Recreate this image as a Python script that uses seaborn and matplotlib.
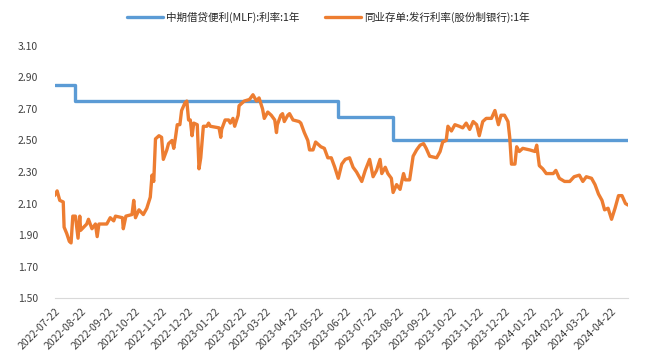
import pandas as pd
import seaborn as sns
import matplotlib.pyplot as plt

# MLF 1Y rate (step changes)
mlf_dates = ["2022-07-22", "2022-08-15", "2023-06-13", "2023-08-15", "2024-05-11"]
mlf_rate = [2.85, 2.75, 2.65, 2.50, 2.50]

# NCD issuance rate, joint-stock banks, 1Y
ncd_dates = [
    "2022-07-22", "2022-07-25", "2022-07-28", "2022-08-01", "2022-08-02", "2022-08-05",
    "2022-08-08", "2022-08-10", "2022-08-12", "2022-08-15", "2022-08-18", "2022-08-20",
    "2022-08-21", "2022-08-28", "2022-08-30", "2022-09-03", "2022-09-07", "2022-09-09",
    "2022-09-11", "2022-09-20", "2022-09-24", "2022-09-28", "2022-09-30", "2022-10-08",
    "2022-10-09", "2022-10-12", "2022-10-19", "2022-10-21", "2022-10-23", "2022-10-27",
    "2022-11-01", "2022-11-05", "2022-11-09", "2022-11-11", "2022-11-13", "2022-11-15",
    "2022-11-19", "2022-11-22", "2022-11-24", "2022-11-28", "2022-11-30", "2022-12-04",
    "2022-12-06", "2022-12-08", "2022-12-10", "2022-12-13", "2022-12-15", "2022-12-19",
    "2022-12-21", "2022-12-23", "2022-12-25", "2022-12-27", "2022-12-29", "2023-01-02",
    "2023-01-04", "2023-01-06", "2023-01-09", "2023-01-13", "2023-01-15", "2023-01-17",
    "2023-01-27", "2023-01-29", "2023-01-30", "2023-02-03", "2023-02-07", "2023-02-09",
    "2023-02-12", "2023-02-14", "2023-02-18", "2023-02-19", "2023-02-25", "2023-03-03",
    "2023-03-07", "2023-03-11", "2023-03-14", "2023-03-18", "2023-03-20", "2023-03-24",
    "2023-03-28", "2023-04-01", "2023-04-03", "2023-04-04", "2023-04-08", "2023-04-10",
    "2023-04-12", "2023-04-16", "2023-04-18", "2023-04-22", "2023-04-29", "2023-05-01",
    "2023-05-05", "2023-05-09", "2023-05-11", "2023-05-15", "2023-05-18", "2023-05-20",
    "2023-05-24", "2023-05-28", "2023-06-01", "2023-06-05", "2023-06-09", "2023-06-13",
    "2023-06-17", "2023-06-21", "2023-06-26", "2023-06-30", "2023-07-04", "2023-07-10",
    "2023-07-14", "2023-07-19", "2023-07-23", "2023-07-27", "2023-07-31", "2023-08-02",
    "2023-08-06", "2023-08-09", "2023-08-13", "2023-08-15", "2023-08-19", "2023-08-23",
    "2023-08-27", "2023-08-29", "2023-09-03", "2023-09-07", "2023-09-11", "2023-09-15",
    "2023-09-19", "2023-09-22", "2023-09-26", "2023-10-04", "2023-10-08", "2023-10-11",
    "2023-10-15", "2023-10-17", "2023-10-21", "2023-10-25", "2023-10-30", "2023-11-03",
    "2023-11-07", "2023-11-11", "2023-11-15", "2023-11-19", "2023-11-22", "2023-11-26",
    "2023-11-30", "2023-12-06", "2023-12-10", "2023-12-14", "2023-12-17", "2023-12-21",
    "2023-12-25", "2023-12-27", "2023-12-29", "2024-01-02", "2024-01-04", "2024-01-07",
    "2024-01-11", "2024-01-19", "2024-01-25", "2024-01-27", "2024-01-30", "2024-02-03",
    "2024-02-07", "2024-02-15", "2024-02-18", "2024-02-22", "2024-02-28", "2024-03-05",
    "2024-03-10", "2024-03-16", "2024-03-20", "2024-03-24", "2024-03-30", "2024-04-03",
    "2024-04-07", "2024-04-11", "2024-04-14", "2024-04-18", "2024-04-22", "2024-04-26",
    "2024-04-30", "2024-05-04", "2024-05-08", "2024-05-11",
]
ncd_rate = [
    2.15, 2.18, 2.12, 2.11, 1.95, 1.91,
    1.86, 1.85, 2.02, 2.02, 1.88, 2.02,
    1.93, 1.97, 2.00, 1.94, 1.97, 1.89,
    1.97, 1.97, 2.01, 1.99, 2.02, 2.01,
    1.94, 2.02, 2.03, 2.12, 2.01, 2.06,
    2.03, 2.07, 2.14, 2.28, 2.24, 2.51,
    2.53, 2.52, 2.38, 2.44, 2.48, 2.50,
    2.45, 2.52, 2.60, 2.60, 2.69, 2.74,
    2.75, 2.63, 2.63, 2.53, 2.61, 2.60,
    2.32, 2.39, 2.59, 2.59, 2.61, 2.59,
    2.58, 2.52, 2.57, 2.63, 2.63, 2.61,
    2.64, 2.59, 2.66, 2.72, 2.75, 2.76,
    2.79, 2.75, 2.77, 2.70, 2.64, 2.68,
    2.66, 2.63, 2.55, 2.60, 2.66, 2.67,
    2.62, 2.66, 2.67, 2.63, 2.62, 2.61,
    2.55, 2.50, 2.44, 2.44, 2.49, 2.48,
    2.46, 2.45, 2.39, 2.39, 2.33, 2.26,
    2.35, 2.38, 2.39, 2.33, 2.30, 2.24,
    2.31, 2.38, 2.27, 2.31, 2.38, 2.29,
    2.33, 2.29, 2.26, 2.17, 2.22, 2.19,
    2.29, 2.25, 2.25, 2.40, 2.44, 2.47,
    2.48, 2.45, 2.40, 2.39, 2.43, 2.49,
    2.50, 2.59, 2.56, 2.60, 2.59, 2.58,
    2.61, 2.57, 2.62, 2.60, 2.53, 2.62,
    2.64, 2.64, 2.69, 2.60, 2.66, 2.66,
    2.62, 2.52, 2.35, 2.35, 2.46, 2.43,
    2.45, 2.44, 2.43, 2.47, 2.34, 2.32,
    2.29, 2.29, 2.31, 2.26, 2.24, 2.24,
    2.27, 2.28, 2.24, 2.27, 2.26, 2.22,
    2.16, 2.12, 2.06, 2.07, 2.00, 2.07,
    2.15, 2.15, 2.10, 2.09,
]

tick_labels = [
    "2022-07-22", "2022-08-22", "2022-09-22", "2022-10-22", "2022-11-22", "2022-12-22",
    "2023-01-22", "2023-02-22", "2023-03-22", "2023-04-22", "2023-05-22", "2023-06-22",
    "2023-07-22", "2023-08-22", "2023-09-22", "2023-10-22", "2023-11-22", "2023-12-22",
    "2024-01-22", "2024-02-22", "2024-03-22", "2024-04-22",
]

mlf_name = "中期借贷便利(MLF):利率:1年"
ncd_name = "同业存单:发行利率(股份制银行):1年"

mlf = pd.DataFrame({"date": pd.to_datetime(mlf_dates), "rate": mlf_rate})
ncd = pd.DataFrame({"date": pd.to_datetime(ncd_dates), "rate": ncd_rate})

sns.set_style("white")
plt.rcParams["font.family"] = ["Noto Sans CJK SC", "DejaVu Sans"]

fig = plt.figure(figsize=(6.57, 3.64), dpi=100)
ax = fig.add_axes([0.083, 0.181, 0.873, 0.693])

sns.lineplot(data=mlf, x="date", y="rate", ax=ax, color="#5B9BD5", linewidth=2.4,
             drawstyle="steps-post", label=mlf_name)
sns.lineplot(data=ncd, x="date", y="rate", ax=ax, color="#ED7D31", linewidth=2.4,
             label=ncd_name)

ax.set_xlim(pd.Timestamp("2022-07-22"), pd.Timestamp("2024-05-11"))
ax.set_ylim(1.5, 3.1)
ax.set_yticks([1.5 + 0.2 * i for i in range(9)])
ax.yaxis.set_major_formatter(plt.FormatStrFormatter("%.2f"))

ax.set_xticks(pd.to_datetime(tick_labels))
ax.set_xticklabels(tick_labels, rotation=45, ha="right", rotation_mode="anchor")
ax.set_xlabel("")
ax.set_ylabel("")

for s in ["top", "right", "left"]:
    ax.spines[s].set_visible(False)
ax.spines["bottom"].set_color("#d9d9d9")
ax.tick_params(axis="x", length=4, color="#d9d9d9", labelsize=7.5, labelcolor="#404040", pad=2)
ax.tick_params(axis="y", length=0, labelsize=7.5, labelcolor="#404040", pad=12)

# legend on top, centred over the figure
ax.get_legend().remove()
handles, labels = ax.get_legend_handles_labels()
fig.legend(handles, labels, loc="center", bbox_to_anchor=(0.5, 0.953), ncol=2,
           frameon=False, fontsize=7.6, handlelength=3.4, columnspacing=2.4, handletextpad=0.3)

fig.savefig("out.png", dpi=100)
